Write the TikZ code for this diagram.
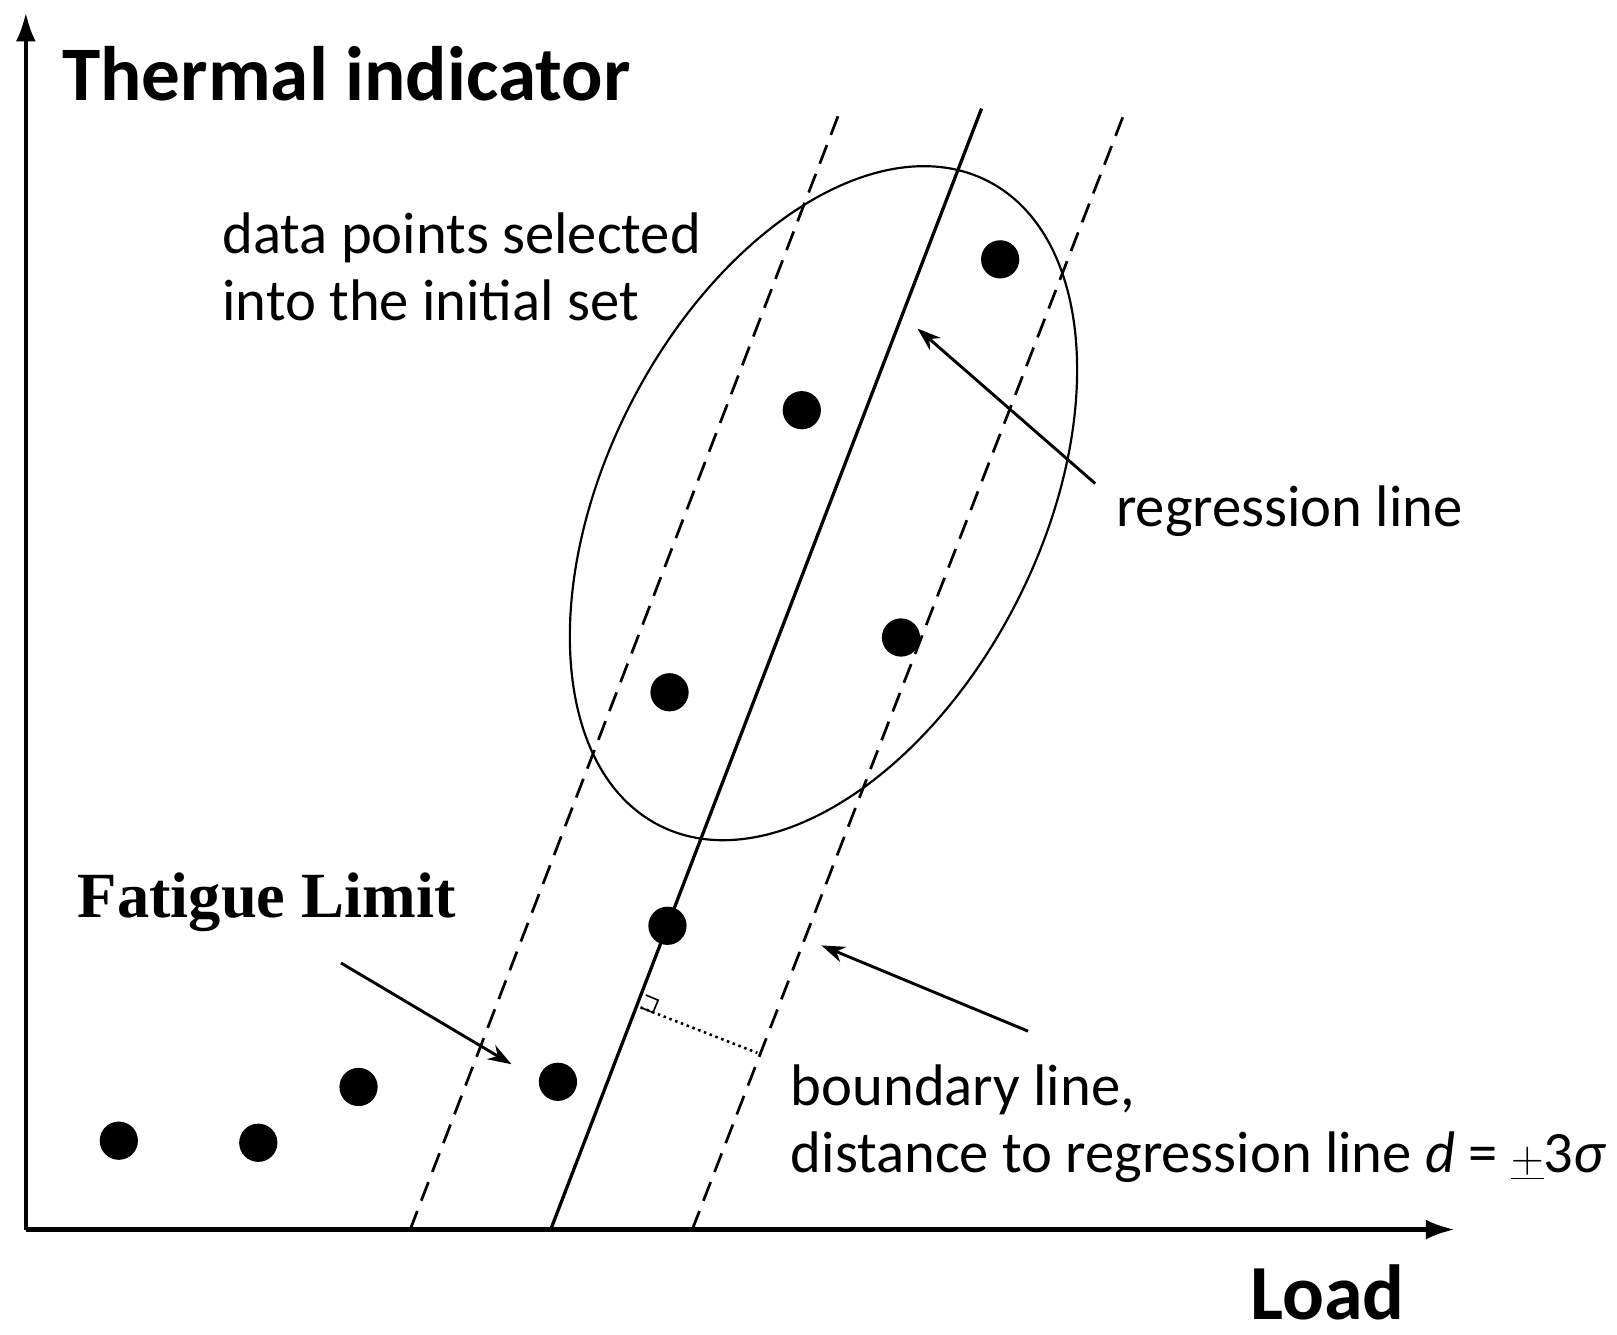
\documentclass[tikz,border=0pt]{standalone}
\usepackage{fontspec}
\setmainfont{Carlito}
\newfontfamily\serifb{Liberation Serif}
\usetikzlibrary{arrows.meta,shapes.geometric}
\begin{document}
\begin{tikzpicture}[x=0.02cm,y=-0.02cm,
  dot/.style={circle,fill=black,inner sep=0pt,minimum size=37*0.02cm},
  lbl/.style={font=\fontsize{32.3}{37}\selectfont,anchor=base west,inner sep=0pt,align=left},
  ptr/.style={line width=1.6pt,-{Stealth[length=13pt,width=9pt]}},
  bnd/.style={line width=1.5pt,dash pattern=on 11pt off 6pt}]
\useasboundingbox (0,0) rectangle (1565,1292);
% axes
\coordinate (O) at (25,1190);
\coordinate (Ytop) at (25,12);
\coordinate (Xend) at (1408,1190);
\draw[line width=2.3pt,-{Latex[length=16pt,width=11pt]}] (O) -- (Ytop);
\draw[line width=2.3pt,-{Latex[length=16pt,width=11pt]}] (O) -- (Xend);
% lines
\coordinate (R1) at (533,1190); \coordinate (R2) at (950,105);
\coordinate (L1) at (397,1190); \coordinate (L2) at (812,110);
\coordinate (B1) at (670,1190); \coordinate (B2) at (1088,110);
\draw[line width=1.8pt] (R1) -- (R2);
\draw[bnd] (L1) -- (L2);
\draw[bnd] (B1) -- (B2);
% ellipse
\node[draw,line width=1.2pt,ellipse,minimum width=700*0.02cm,minimum height=420*0.02cm,rotate=63,inner sep=0pt] (ell) at (797,487) {};
% dots
\foreach \n/\x/\y in {d1/115/1104,d2/250/1106,d3/347/1052,d4/540/1047,d5/646/896,d6/648/670,d7/872/617,d8/776/397,d9/968/251}
  \node[dot] (\n) at (\x,\y) {};
% perpendicular
\coordinate (P1) at (620,975); \coordinate (P2) at (733,1019);
\draw[line width=1.4pt,dotted] (P1) -- (P2);
\draw[line width=0.9pt] (P1) -- ++(12,5) -- ++(5,-12) -- ++(-12,-5);
% texts
\node[font=\fontsize{42.5}{44}\selectfont\bfseries,anchor=base west,inner sep=0pt] (ti) at (60,97) {Thermal indicator};
\node[font=\fontsize{43}{44}\selectfont\bfseries,anchor=base west,inner sep=0pt] (ld) at (1210,1277) {Load};
\node[lbl] (t1) at (215,310) {data points selected\\into the initial set};
\node[lbl] (t2) at (1080,510) {regression line};
\node[font=\serifb\fontsize{35.5}{40}\selectfont\bfseries,anchor=base west,inner sep=0pt] (fl) at (75,888) {Fatigue Limit};
\node[lbl] (t3) at (765,1135) {boundary line,\\distance to regression line \textit{d} = $\underline{+}$3\textit{σ}};
% pointers
\coordinate (a1) at (1060,468); \coordinate (a1e) at (888,318);
\coordinate (a2) at (330,932); \coordinate (a2e) at (495,1030);
\coordinate (a3) at (995,998); \coordinate (a3e) at (795,915);
\draw[ptr] (a1) -- (a1e);
\draw[ptr] (a2) -- (a2e);
\draw[ptr] (a3) -- (a3e);
\end{tikzpicture}
\end{document}
